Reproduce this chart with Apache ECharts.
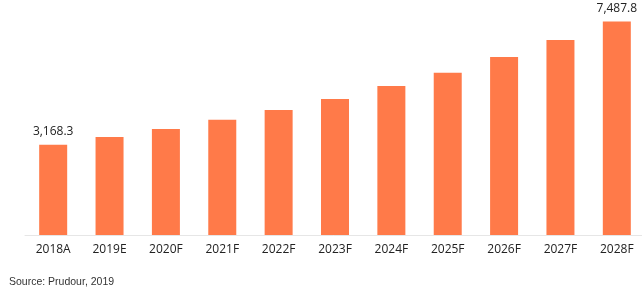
<!DOCTYPE html>
<html><head><meta charset="utf-8">
<script src="https://cdn.jsdelivr.net/npm/echarts@6/dist/echarts.min.js"></script>
<style>html,body{margin:0;padding:0;background:#fff}#c{width:642px;height:293px}</style>
</head><body><div id="c"></div>
<script>
const categories = ['2018A','2019E','2020F','2021F','2022F','2023F','2024F','2025F','2026F','2027F','2028F'];
const values = [3168.3, 3440, 3720, 4040, 4390, 4770, 5230, 5690, 6250, 6840, 7487.8];
const labelIdx = [0, 10];
const chart = echarts.init(document.getElementById('c'));
chart.setOption({
  animation: false,
  grid: {left: 25, width: 620, top: 7, bottom: 58, outerBoundsMode: 'none', containLabel: false},
  xAxis: {type: 'category', data: categories,
    axisLine: {lineStyle: {color: '#e6e6e6'}}, axisTick: {show: false},
    axisLabel: {color: '#222', fontSize: 12, fontFamily: 'Open Sans', margin: 9}},
  yAxis: {type: 'value', min: 0, max: 8000, show: false},
  series: [{type: 'bar', barWidth: 28,
    data: values.map((v, i) => ({value: v, label: {show: labelIdx.includes(i)}})),
    itemStyle: {color: '#FF7A49'},
    label: {position: 'top', distance: 7, color: '#222', fontSize: 12, fontFamily: 'Open Sans',
      formatter: p => p.value.toLocaleString('en-US', {minimumFractionDigits: 1, maximumFractionDigits: 1})}}],
  graphic: [{type: 'text', left: 9, top: 277, style: {text: 'Source: Prudour, 2019', fill: '#333', font: '10.5px "Liberation Sans"'}}]
});
</script></body></html>
